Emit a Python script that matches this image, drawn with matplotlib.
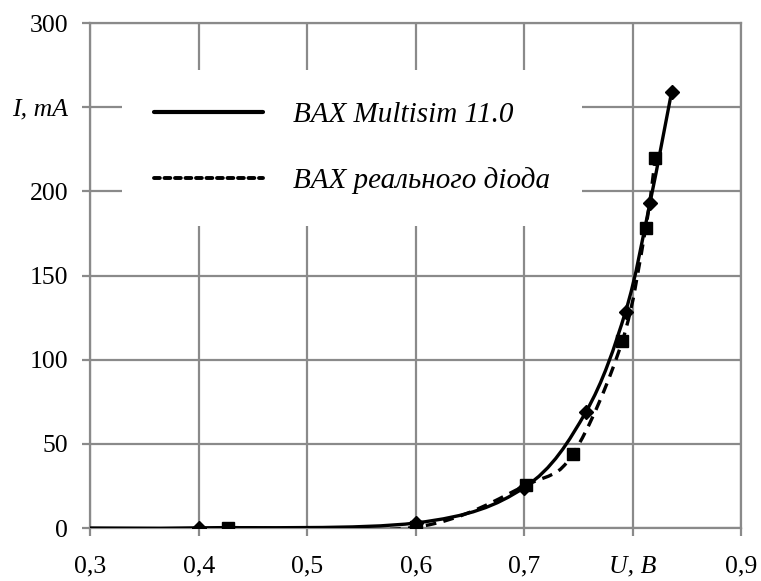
import matplotlib.pyplot as plt
import numpy as np
from matplotlib.path import Path
from matplotlib.patches import PathPatch
from matplotlib.lines import Line2D

plt.rcParams['font.family'] = ['Liberation Serif', 'DejaVu Serif']

# ВАХ Multisim 11.0 (ромбы, сплошная)
u_sim = [0.3, 0.4, 0.6, 0.7, 0.757, 0.7935, 0.816, 0.836]
i_sim = [0.0, 0.1, 3.0, 24.0, 69.0, 128.5, 193.0, 259.0]
# ВАХ реального диода (квадраты, пунктир)
u_real = [0.427, 0.6, 0.702, 0.745, 0.7905, 0.812, 0.821]
i_real = [0.3, 0.5, 25.5, 44.0, 111.0, 178.0, 220.0]

x_ticks = [0.3, 0.4, 0.5, 0.6, 0.7, 0.8, 0.9]
x_labels = ['0,3', '0,4', '0,5', '0,6', '0,7', 'U, B', '0,9']
y_ticks = [0, 50, 100, 150, 200, 250, 300]
y_labels = ['0', '50', '100', '150', '200', 'I, mA', '300']
legend_labels = ['BAX Multisim 11.0', 'BAX реального діода']

grid_col = '#8a8a8a'


def smooth(x, y):
    # сглаженная линия как в Excel (Безье через точки)
    p = np.column_stack([x, y])
    n = len(p)
    verts = [p[0]]
    codes = [Path.MOVETO]
    for k in range(n - 1):
        p0 = p[max(k - 1, 0)]
        p3 = p[min(k + 2, n - 1)]
        c1 = p[k] + (p[k + 1] - p0) / 6
        c2 = p[k + 1] - (p3 - p[k]) / 6
        verts += [c1, c2, p[k + 1]]
        codes += [Path.CURVE4] * 3
    return Path(verts, codes)


fig = plt.figure(figsize=(7.61, 5.81), dpi=100)
ax = fig.add_axes([0.1189, 0.0912, 0.8548, 0.8692])

ax.add_patch(PathPatch(smooth(u_sim, i_sim), fill=False, edgecolor='black',
                       lw=2.4, zorder=3, capstyle='round'))
ax.add_patch(PathPatch(smooth(u_real, i_real), fill=False, edgecolor='black',
                       lw=2.4, zorder=3, linestyle=(0, (3.2, 2.2))))
ax.plot(u_sim[1:], i_sim[1:], 'D', color='black', ms=7.5, zorder=4)
ax.plot(u_real, i_real, 's', color='black', ms=8.5, zorder=4)

ax.set_xlim(0.3, 0.9)
ax.set_ylim(0, 300)
ax.set_xticks(x_ticks, x_labels)
ax.set_yticks(y_ticks, y_labels)
for t in ax.get_xticklabels() + ax.get_yticklabels():
    if t.get_text() in ('U, B', 'I, mA'):
        t.set_fontstyle('italic')
        t.set_fontsize(19.5)
ax.tick_params(axis='both', labelsize=18.5, length=6, width=1.6, color=grid_col,
               direction='out')
ax.tick_params(axis='x', pad=14)
ax.tick_params(axis='y', pad=10)
ax.grid(True, color=grid_col, lw=1.6)
ax.set_axisbelow(True)
for s in ax.spines.values():
    s.set_color(grid_col)
    s.set_linewidth(1.6)

h = [Line2D([], [], color='black', lw=3.0, solid_capstyle='round'),
     Line2D([], [], color='black', lw=2.8, linestyle=(0, (1.5, 1.2)),
            dash_capstyle='round')]
leg = ax.legend(h, legend_labels, loc='upper left',
                bbox_to_anchor=(0.048, 0.907), prop={'style': 'italic', 'size': 21},
                handlelength=3.75, handletextpad=1.03, labelspacing=1.32,
                borderpad=1.1, borderaxespad=0, frameon=True, fancybox=False)
leg.get_frame().set_facecolor('white')
leg.get_frame().set_edgecolor('none')
leg.get_frame().set_alpha(1)

plt.savefig('out.png', dpi=100)
